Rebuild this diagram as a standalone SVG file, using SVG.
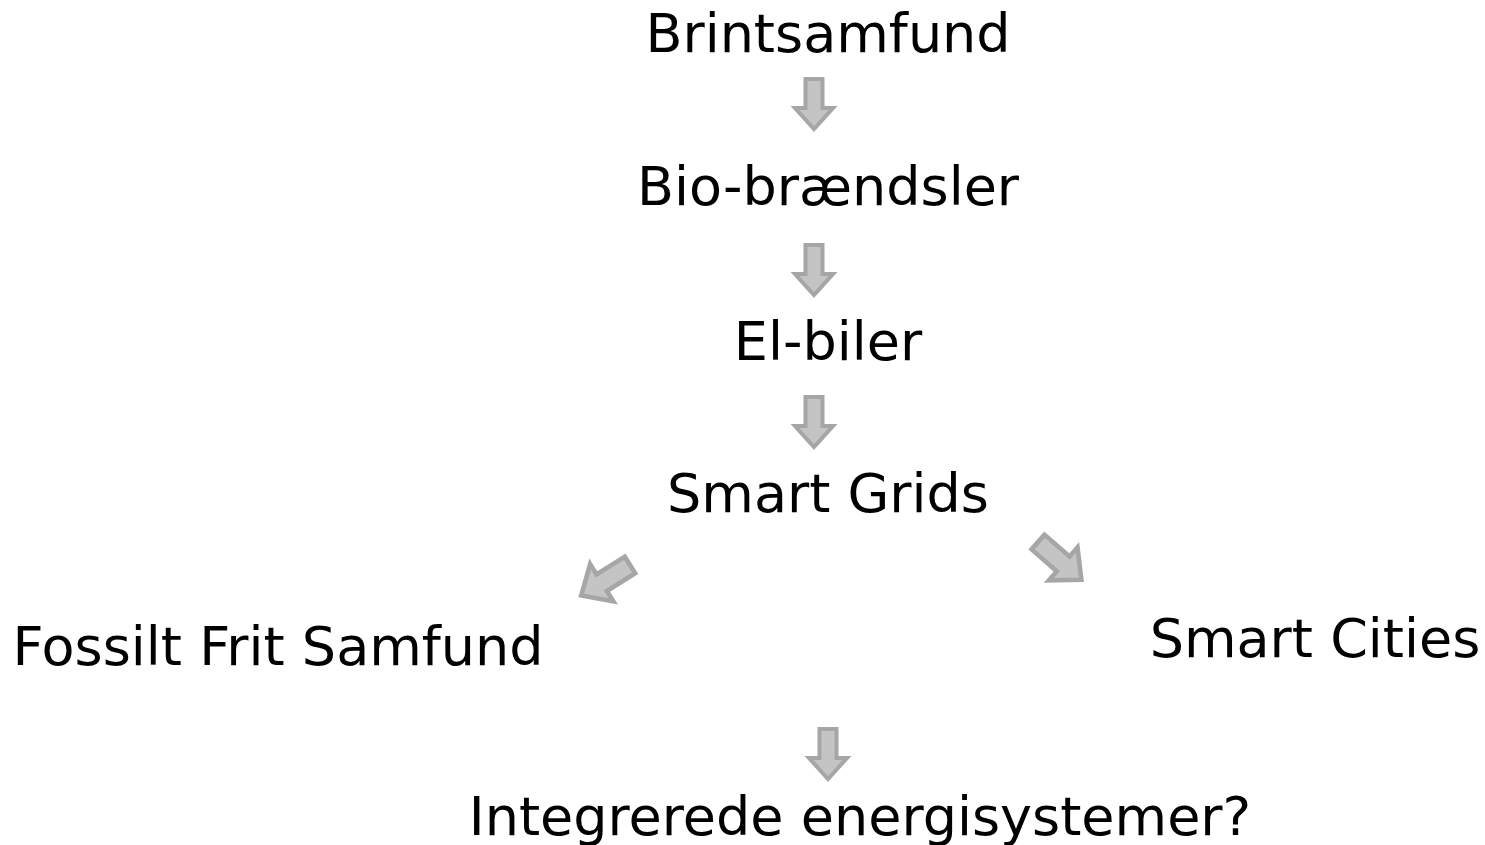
<svg xmlns="http://www.w3.org/2000/svg" width="1485" height="845" viewBox="0 0 1485 845">
<style>
text{font-family:"DejaVu Sans","Verdana",sans-serif;font-size:54px;fill:#000;text-anchor:middle}
.arr{fill:#c4c4c4;stroke:#a6a6a6;stroke-width:4;stroke-linejoin:miter}
</style>
<defs>
<path id="ar" d="M-8.5,0 H8.5 V29 H19 L0,50 L-19,29 H-8.5 Z"/>
</defs>
<rect width="1485" height="845" fill="#fff"/>
<g id="n1"><text x="828" y="52">Brintsamfund</text></g>
<g id="n2"><text x="828" y="205">Bio-brændsler</text></g>
<g id="n3"><text x="828" y="360">El-biler</text></g>
<g id="n4"><text x="828" y="512">Smart Grids</text></g>
<g id="n5"><text x="278" y="665">Fossilt Frit Samfund</text></g>
<g id="n6"><text x="1315" y="657">Smart Cities</text></g>
<g id="n7"><text x="860" y="835">Integrerede energisystemer?</text></g>
<g id="connectors">
<use href="#ar" class="arr" transform="translate(814,79)"/>
<use href="#ar" class="arr" transform="translate(814,245)"/>
<use href="#ar" class="arr" transform="translate(814,397)"/>
<use href="#ar" class="arr" transform="translate(828,729)"/>
<use href="#ar" class="arr" transform="translate(630,565) rotate(58) scale(1.15)"/>
<use href="#ar" class="arr" transform="translate(1038,542) rotate(-49) scale(1.15)"/>
</g>
</svg>
